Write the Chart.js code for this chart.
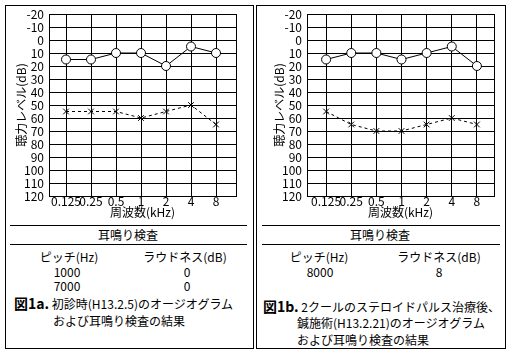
<!DOCTYPE html>
<html>
<head>
<meta charset="utf-8">
<script src="https://cdn.jsdelivr.net/npm/chart.js@4"></script>
<style>
  body { margin: 0; background: #fff; color: #000; font-family: "Noto Sans CJK JP", sans-serif; }
  #wrap { position: relative; width: 509px; height: 354px; overflow: hidden; }
  .frame { position: absolute; border: 1px solid #000; box-sizing: border-box; }
  canvas { position: absolute; top: 0; }
  .t { position: absolute; font-size: 12px; line-height: 14px; white-space: nowrap; }
  .c { transform: translateX(-50%); }
  .rule { position: absolute; height: 1px; background: #000; }
  .fig { font-weight: bold; font-size: 14px; }
</style>
</head>
<body>
<div id="wrap">
  <div class="frame" style="left:5px; top:5px; width:249px; height:344px;"></div>
  <div class="frame" style="left:256px; top:5px; width:250px; height:344px;"></div>

  <canvas id="chartA" width="254" height="222" style="left:0;"></canvas>
  <canvas id="chartB" width="251" height="222" style="left:258px;"></canvas>

  <!-- left table -->
  <div class="rule" style="left:10px; top:225px; width:237px;"></div>
  <div class="t c" style="left:128px; top:228px;">耳鳴り検査</div>
  <div class="rule" style="left:10px; top:244px; width:237px;"></div>
  <div class="t c" style="left:69px; top:250px;">ピッチ(Hz)</div>
  <div class="t c" style="left:185px; top:250px;">ラウドネス(dB)</div>
  <div class="t c" style="left:67px; top:265px;">1000</div>
  <div class="t c" style="left:187px; top:265px;">0</div>
  <div class="t c" style="left:67px; top:279px;">7000</div>
  <div class="t c" style="left:187px; top:279px;">0</div>
  <div class="t" style="left:14px; top:296px;"><span class="fig">図1a.</span> 初診時(H13.2.5)のオージオグラム</div>
  <div class="t" style="left:53px; top:314px;">および耳鳴り検査の結果</div>

  <!-- right table -->
  <div class="rule" style="left:262px; top:225px; width:238px;"></div>
  <div class="t c" style="left:380px; top:228px;">耳鳴り検査</div>
  <div class="rule" style="left:262px; top:244px; width:238px;"></div>
  <div class="t c" style="left:319px; top:250px;">ピッチ(Hz)</div>
  <div class="t c" style="left:439px; top:250px;">ラウドネス(dB)</div>
  <div class="t c" style="left:320px; top:265px;">8000</div>
  <div class="t c" style="left:439px; top:265px;">8</div>
  <div class="t" style="left:263px; top:299px;"><span class="fig">図1b.</span> 2クールのステロイドパルス治療後、</div>
  <div class="t" style="left:297px; top:316px;">鍼施術(H13.2.21)のオージオグラム</div>
  <div class="t" style="left:297px; top:333px;">および耳鳴り検査の結果</div>
</div>
<script>
// frequencies (kHz) shown on the x axis
const freqLabels = ["0.125", "0.25", "0.5", "1", "2", "4", "8"];
// hearing level ticks (dB)
const levelTicks = [-20, -10, 0, 10, 20, 30, 40, 50, 60, 70, 80, 90, 100, 110, 120];

// Fig 1a - first visit
const circlesA = [15, 15, 10, 10, 20, 5, 10];
const crossesA = [55, 55, 55, 60, 55, 50, 65];
// Fig 1b - after steroid pulse + acupuncture
const circlesB = [15, 10, 10, 15, 10, 5, 20];
const crossesB = [55, 65, 70, 70, 65, 60, 65];

const FONT = "'Noto Sans CJK JP', sans-serif";

function makeAudiogram(id, circles, crosses, xMin, xMax, padRight) {
  // pass the canvas itself (grid lines went missing when handing over the 2d context)
  const canvas = document.getElementById(id);
  const toPoints = (arr) => arr.map((v, i) => ({ x: i, y: v }));
  return new Chart(canvas, {
    type: "line",
    data: {
      datasets: [
        {
          data: toPoints(circles),
          borderColor: "#000",
          borderWidth: 1,
          pointRadius: 4.5,
          pointBackgroundColor: "#fff",
          pointBorderColor: "#000",
          pointBorderWidth: 1,
        },
        {
          data: toPoints(crosses),
          borderColor: "#000",
          borderWidth: 1,
          borderDash: [3, 3],
          pointStyle: "crossRot",
          pointRadius: 4,
          pointBorderColor: "#000",
          pointBorderWidth: 1,
        },
      ],
    },
    options: {
      responsive: false,
      animation: false,
      devicePixelRatio: 1,
      layout: { padding: { left: 0, top: 14, right: padRight, bottom: 0 } },
      plugins: { legend: { display: false }, tooltip: { enabled: false } },
      scales: {
        x: {
          type: "linear",
          min: xMin,
          max: xMax,
          // edge ticks only draw the frame of the plot, they get no label
          afterBuildTicks: (axis) => {
            axis.ticks = [xMin, ...freqLabels.map((_, i) => i), xMax].map((v) => ({ value: v }));
          },
          afterFit: (axis) => {
            axis.height = 26;
          },
          grid: { color: "#000", lineWidth: 1, drawTicks: false },
          border: { color: "#000", width: 1 },
          ticks: {
            autoSkip: false,
            maxRotation: 0,
            padding: -2,
            color: "#000",
            font: { family: FONT, size: 12 },
            callback: (v) => (Number.isInteger(v) ? freqLabels[v] : ""),
          },
          title: {
            display: true,
            text: "周波数(kHz)",
            color: "#000",
            font: { family: FONT, size: 12 },
            padding: { top: 0, bottom: 2 },
          },
        },
        y: {
          reverse: true,
          min: levelTicks[0],
          max: levelTicks[levelTicks.length - 1],
          afterBuildTicks: (axis) => {
            axis.ticks = levelTicks.map((v) => ({ value: v }));
          },
          afterFit: (axis) => {
            axis.width = 49;
          },
          grid: { color: "#000", lineWidth: 1, drawTicks: false },
          border: { color: "#000", width: 1 },
          ticks: {
            autoSkip: false,
            padding: 5,
            color: "#000",
            font: { family: FONT, size: 12 },
          },
          title: {
            display: true,
            text: "聴力レベル(dB)",
            color: "#000",
            font: { family: FONT, size: 12 },
            padding: { top: 14, bottom: 0 },
          },
        },
      },
    },
  });
}

makeAudiogram("chartA", circlesA, crossesA, -0.68, 6.8, 18);
makeAudiogram("chartB", circlesB, crossesB, -0.76, 6.68, 15);
</script>
</body>
</html>
